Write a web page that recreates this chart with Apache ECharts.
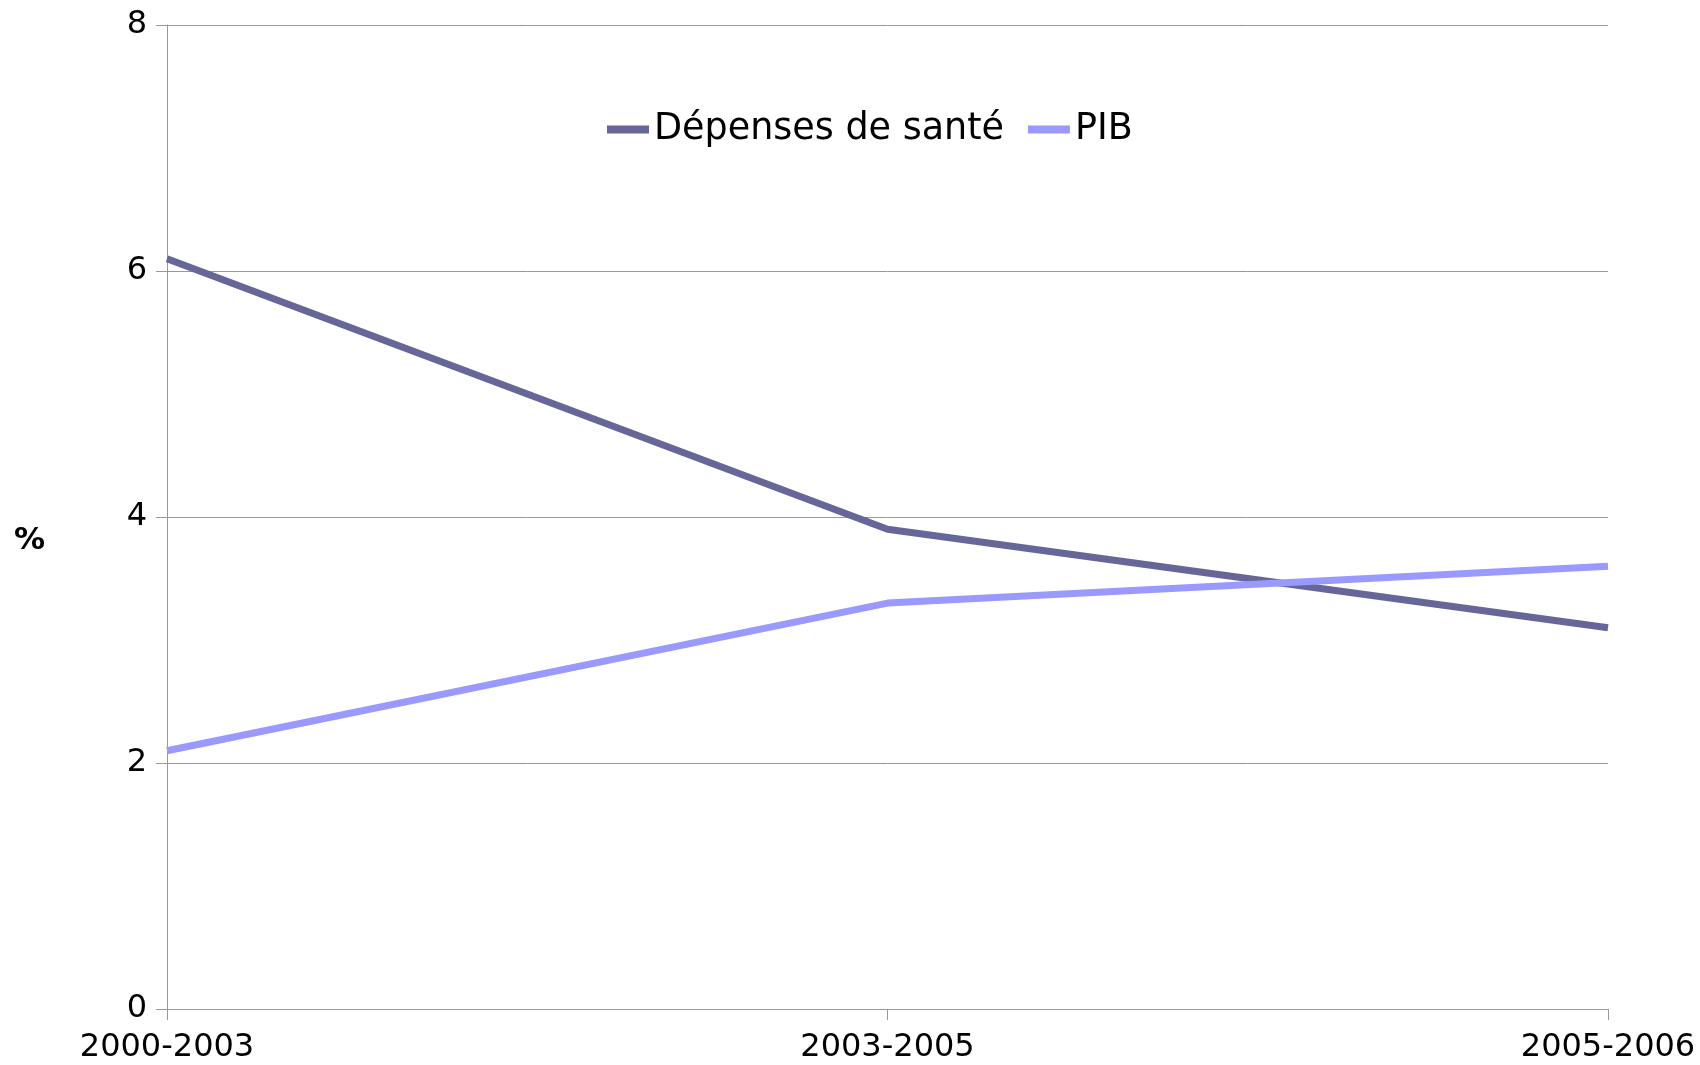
<!DOCTYPE html>
<html>
<head>
<meta charset="utf-8">
<script src="https://cdn.jsdelivr.net/npm/echarts@6/dist/echarts.min.js"></script>
<style>
  html, body { margin: 0; padding: 0; background: #fff; }
  #chart { width: 1700px; height: 1065px; }
</style>
</head>
<body>
<div id="chart"></div>
<script>
const periods = ['2000-2003', '2003-2005', '2005-2006']
const depensesSante = [6.1, 3.9, 3.1]
const pib = [2.1, 3.3, 3.6]

const chart = echarts.init(document.getElementById('chart'))
const font = 'DejaVu Sans'

chart.setOption({
  animation: false,
  textStyle: { fontFamily: font },
  grid: { left: 167, right: 92, top: 25, bottom: 56, outerBoundsMode: 'none' },
  legend: {
    top: 106,
    left: 602,
    itemWidth: 42,
    itemHeight: 8,
    itemGap: 24,
    icon: 'rect',
    textStyle: { fontSize: 36.5, color: '#000', fontFamily: font },
    data: ['Dépenses de santé', 'PIB'],
  },
  xAxis: {
    type: 'category',
    data: periods,
    boundaryGap: false,
    axisLine: { lineStyle: { color: '#999', width: 1 } },
    axisTick: { show: true, length: 11, lineStyle: { color: '#999' } },
    axisLabel: { color: '#000', fontSize: 32, margin: 23, fontFamily: font },
    splitLine: { show: false },
  },
  yAxis: {
    type: 'value',
    min: 0,
    max: 8,
    interval: 2,
    name: '%',
    nameLocation: 'middle',
    nameRotate: 0,
    nameGap: 122,
    nameTextStyle: { fontSize: 31, fontWeight: 'bold', color: '#000', verticalAlign: 'top', padding: [8, 0, 0, 0], fontFamily: font },
    axisLine: { show: true, lineStyle: { color: '#999' } },
    axisTick: { show: true, length: 11, lineStyle: { color: '#999' } },
    axisLabel: { color: '#000', fontSize: 32, margin: 20, fontFamily: font },
    splitLine: { show: true, lineStyle: { color: '#999', width: 1 } },
  },
  series: [
    {
      name: 'Dépenses de santé',
      type: 'line',
      symbol: 'none',
      data: depensesSante,
      itemStyle: { color: '#666699' },
      lineStyle: { color: '#666699', width: 7 },
    },
    {
      name: 'PIB',
      type: 'line',
      symbol: 'none',
      data: pib,
      itemStyle: { color: '#9999ff' },
      lineStyle: { color: '#9999ff', width: 7 },
    },
  ],
})
</script>
</body>
</html>
